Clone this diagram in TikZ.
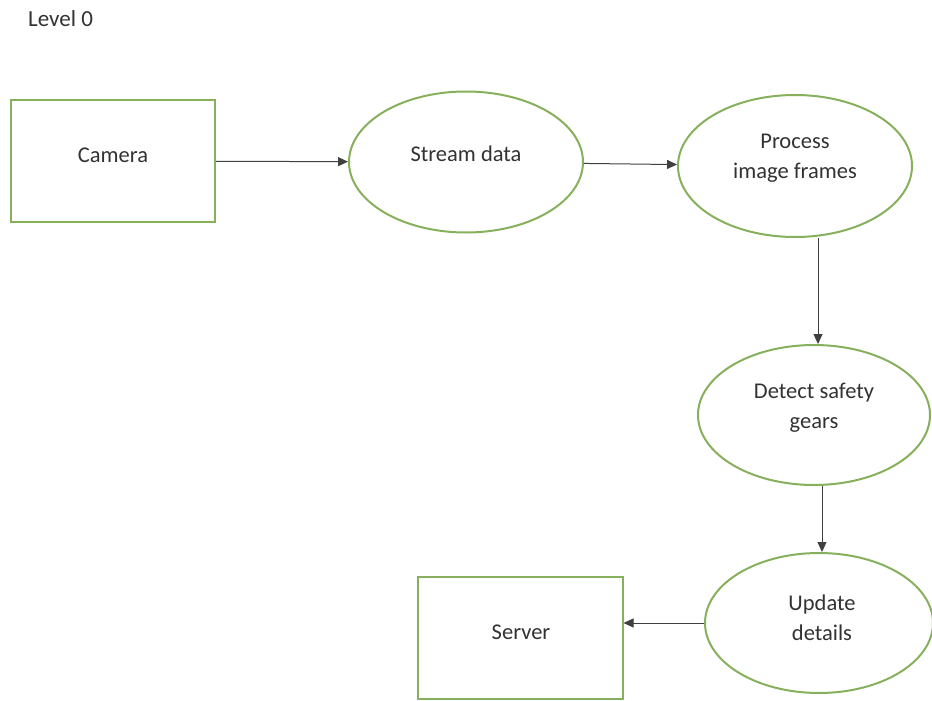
\documentclass[tikz,border=0pt]{standalone}
\usepackage{fontspec}
\setmainfont{Carlito}
\usetikzlibrary{shapes.geometric,arrows.meta}
\definecolor{boxgreen}{RGB}{134,176,92}
\definecolor{txtgray}{RGB}{50,50,50}
\begin{document}
\begin{tikzpicture}[x=1pt,y=-1pt,
  every node/.style={font=\fontsize{22.5}{30}\selectfont, text=txtgray},
  procbox/.style={draw=boxgreen, line width=2pt, rectangle, minimum width=204pt, minimum height=122pt, inner sep=0pt},
  procell/.style={draw=boxgreen, line width=2pt, ellipse, inner sep=0pt},
  lbl/.style={inner sep=0pt, align=center},
  arr/.style={draw=black!75, line width=1pt, -{Triangle[length=10pt,width=9pt]}}]
\useasboundingbox (0,0) rectangle (932,701);
\node[lbl, anchor=west, font=\fontsize{23}{28}\selectfont] (title) at (28,19) {Level 0};

\node[procbox] (cam) at (113,161) {};
\node[lbl] (camt) at (113,155) {Camera};

\node[procell, minimum width=234pt, minimum height=141pt] (stream) at (466,162) {};
\node[lbl] (streamt) at (466,154) {Stream data};

\node[procell, minimum width=234pt, minimum height=142pt] (proc) at (795,166) {};
\node[lbl] (proct) at (795,158) {Process\\image frames};

\node[procell, minimum width=232pt, minimum height=140pt] (det) at (814,415) {};
\node[lbl] (dett) at (814,408) {Detect safety\\gears};

\node[procell, minimum width=228pt, minimum height=140pt] (upd) at (819,623) {};
\node[lbl] (updt) at (822,618) {Update\\details};

\node[procbox, minimum width=205pt] (srv) at (520,638) {};
\node[lbl] (srvt) at (521,632) {Server};

\draw[arr] (cam) -- (stream);
\draw[arr] (stream) -- (proc);
\draw[arr] ([xshift=23pt]proc.south) -- ([xshift=4pt]det.north);
\draw[arr] ([xshift=8pt]det.south) -- ([xshift=3pt]upd.north);
\draw[arr] (upd.west) -- (srv.east |- upd.west);
\end{tikzpicture}
\end{document}
